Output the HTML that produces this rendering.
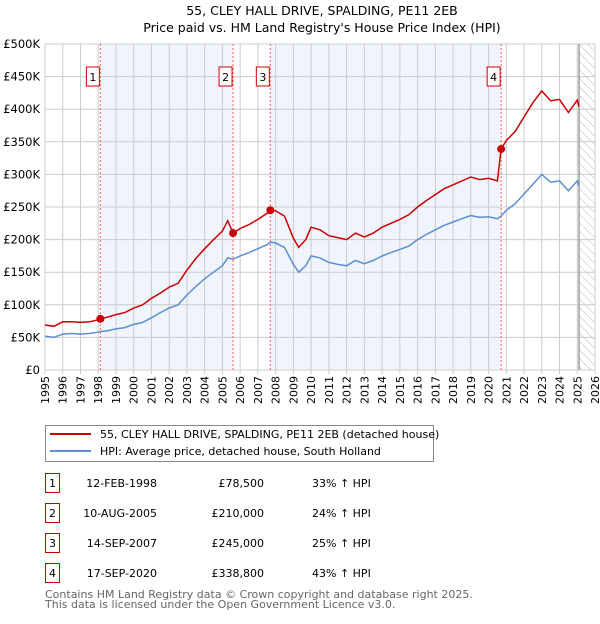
<!DOCTYPE html>
<html><head><meta charset="utf-8"><style>
body{margin:0;background:#fff;font-family:"DejaVu Sans","Liberation Sans",sans-serif;}
svg text{font-family:"DejaVu Sans","Liberation Sans",sans-serif;}
</style></head><body>
<svg width="600" height="620" viewBox="0 0 600 620">
<defs><pattern id="hatch" width="6" height="6" patternUnits="userSpaceOnUse" patternTransform="rotate(-45)"><line x1="0" y1="0" x2="0" y2="6" stroke="#bbb" stroke-width="1"/></pattern></defs>
<text x="322" y="15" text-anchor="middle" font-size="12.5" fill="#000">55, CLEY HALL DRIVE, SPALDING, PE11 2EB</text>
<text x="322" y="32" text-anchor="middle" font-size="12.5" fill="#000">Price paid vs. HM Land Registry's House Price Index (HPI)</text>
<g id="plot"></g>
<g>
<rect x="45.5" y="425.5" width="388" height="36" fill="#fff" stroke="#888"/>
<line x1="50" y1="434" x2="91" y2="434" stroke="#cc0000" stroke-width="2"/>
<text x="100" y="438" font-size="11">55, CLEY HALL DRIVE, SPALDING, PE11 2EB (detached house)</text>
<line x1="50" y1="451" x2="91" y2="451" stroke="#5b8fd0" stroke-width="2"/>
<text x="100" y="455" font-size="11">HPI: Average price, detached house, South Holland</text>
</g>
<g id="table" font-size="11"></g>
<text x="45" y="598" font-size="11" fill="#666">Contains HM Land Registry data © Crown copyright and database right 2025.</text>
<text x="45" y="608" font-size="11" fill="#666">This data is licensed under the Open Government Licence v3.0.</text>
</svg>
<script>
const years=[1995,1995.5,1996,1996.5,1997,1997.5,1998,1998.12,1998.5,1999,1999.5,2000,2000.5,2001,2001.5,2002,2002.5,2003,2003.5,2004,2004.5,2005,2005.3,2005.6,2006,2006.5,2007,2007.5,2007.7,2008,2008.5,2009,2009.3,2009.7,2010,2010.5,2011,2011.5,2012,2012.5,2013,2013.5,2014,2014.5,2015,2015.5,2016,2016.5,2017,2017.5,2018,2018.5,2019,2019.5,2020,2020.5,2020.71,2021,2021.5,2022,2022.5,2023,2023.5,2024,2024.5,2025,2025.1];
const hpiValues=[52,50,55,56,55,56,58,59,60,63,65,70,73,80,88,95,100,115,128,140,150,160,172,170,175,180,186,192,196,195,188,162,150,160,175,172,165,162,160,168,163,168,175,180,185,190,200,208,215,222,227,232,237,234,235,232,236,245,255,270,285,300,288,290,275,290,282];
const priceValues=[69,67,74,74,73,74,77,78.5,81,85,88,95,100,110,118,127,133,153,171,186,200,213,229,210,217,223,231,240,245,244,236,202,188,200,219,215,206,203,200,210,204,210,219,225,231,238,250,260,269,278,284,290,296,292,294,290,338.8,352,366,388,410,428,413,415,395,414,404];
const saleYears=[1998.12,2005.6,2007.7,2020.71];
const salePrices=[78.5,210,245,338.8];
const saleLabels=["1","2","3","4"];
const saleDates=["12-FEB-1998","10-AUG-2005","14-SEP-2007","17-SEP-2020"];
const salePriceText=["£78,500","£210,000","£245,000","£338,800"];
const salePct=["33% ↑ HPI","24% ↑ HPI","25% ↑ HPI","43% ↑ HPI"];
const yTicks=[0,50,100,150,200,250,300,350,400,450,500];
const yTickLabels=["£0","£50K","£100K","£150K","£200K","£250K","£300K","£350K","£400K","£450K","£500K"];
const xTicks=[1995,1996,1997,1998,1999,2000,2001,2002,2003,2004,2005,2006,2007,2008,2009,2010,2011,2012,2013,2014,2015,2016,2017,2018,2019,2020,2021,2022,2023,2024,2025,2026];
const X0=45,X1=595,Y0=370,Y1=44;
const x=t=>X0+(t-1995)*(X1-X0)/31;
const y=v=>Y0-v*(Y0-Y1)/500;
const NS="http://www.w3.org/2000/svg";
const plot=document.getElementById('plot');
function mk(tag,attrs,parent){const e=document.createElementNS(NS,tag);for(const k in attrs)e.setAttribute(k,attrs[k]);(parent||plot).appendChild(e);return e;}
// shaded spans
for(let i=0;i<saleYears.length;i+=2){
 const r=mk('rect',{x:x(saleYears[i]),y:Y1,width:x(saleYears[i+1])-x(saleYears[i]),height:Y0-Y1,fill:'#f0f4fd'});
 
 
}
const hatch=mk('rect',{x:x(2025.1),y:Y1,width:X1-x(2025.1),height:Y0-Y1,fill:'url(#hatch)'});


// grid
xTicks.forEach(t=>{
 const l=mk('line',{x1:x(t),x2:x(t),y1:Y1,y2:Y0+4,stroke:'#ccc'});
 
 
 const tx=mk('text',{x:0,y:0,'font-size':11,'text-anchor':'end',transform:`translate(${x(t)+4},${Y0+6}) rotate(-90)`});
 tx.textContent=t;
 
 
});
yTicks.forEach((v,i)=>{
 const l=mk('line',{x1:X0,x2:X1,y1:y(v),y2:y(v),stroke:'#ccc'});
 
 
 const tx=mk('text',{x:X0-5,y:y(v)+4,'font-size':11.5,'text-anchor':'end'});
 tx.textContent=yTickLabels[i];
 
 
});
const nowLine=mk('line',{x1:x(2025.1),x2:x(2025.1),y1:Y1,y2:Y0,stroke:'#888','stroke-width':1.2});


// sale lines
saleYears.forEach((t,i)=>{
 const l=mk('line',{x1:x(t),x2:x(t),y1:Y1,y2:Y0,stroke:'#f06060','stroke-dasharray':'2,2'});
 
 
 const r=mk('rect',{x:x(t)-14,y:67,width:13,height:19,fill:'#fff',stroke:'#cc0000'});
 
 
 const tx=mk('text',{x:x(t)-7.5,y:81,'font-size':11,'text-anchor':'middle'});
 tx.textContent=saleLabels[i];
 
 
});
const hp=mk('path',{d:years.map((t,i)=>(i?'L':'M')+x(t).toFixed(1)+','+y(hpiValues[i]).toFixed(1)).join(''),fill:'none',stroke:'#5b8fd0','stroke-width':1.5});


const pp=mk('path',{d:years.map((t,i)=>(i?'L':'M')+x(t).toFixed(1)+','+y(priceValues[i]).toFixed(1)).join(''),fill:'none',stroke:'#cc0000','stroke-width':1.5});


saleYears.forEach((t,i)=>{
 const c=mk('circle',{cx:x(t),cy:y(salePrices[i]),r:4,fill:'#cc0000'});
 
 
});
const tb=document.getElementById('table');
saleLabels.forEach((s,i)=>{
 const cy=483+i*30;
 const r=mk('rect',{x:45.5,y:cy-9.5,width:14,height:19,fill:'#fff',stroke:'#cc0000'},tb);
 
 
 const cells=[[52.5,s,'middle'],[157,saleDates[i],'end'],[264,salePriceText[i],'end'],[312,salePct[i],'start']];
 const names=['sale-row-number','sale-row-date','sale-row-price','sale-row-hpi-change'];
 cells.forEach((c,j)=>{
  const tx=mk('text',{x:c[0],y:cy+4,'text-anchor':c[2]},tb);
  tx.textContent=c[1];
  
  
 });
});
</script>
</body></html>
